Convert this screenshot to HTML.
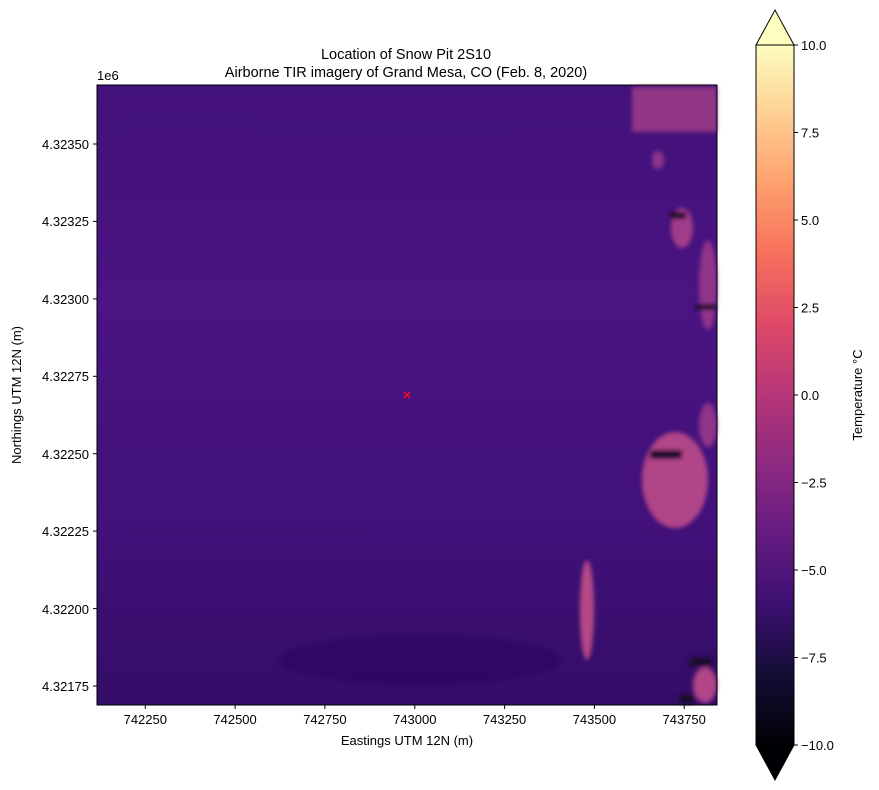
<!DOCTYPE html>
<html><head><style>body{margin:0;background:#fff}svg{display:block}text{font-family:"Liberation Sans","DejaVu Sans",sans-serif}</style></head><body>
<svg width="879" height="790" viewBox="0 0 879 790" xmlns="http://www.w3.org/2000/svg" font-size="13" fill="#000">
<defs>
<linearGradient id="bg" x1="0" y1="0" x2="0" y2="1">
<stop offset="0" stop-color="#43117a"/><stop offset="0.35" stop-color="#4a1482"/><stop offset="0.7" stop-color="#42117a"/><stop offset="1" stop-color="#340d68"/>
</linearGradient>
<linearGradient id="mg" x1="0" y1="1" x2="0" y2="0">
<stop offset="0" stop-color="#000004"/><stop offset="0.1" stop-color="#140e36"/><stop offset="0.2" stop-color="#3b0f70"/><stop offset="0.3" stop-color="#641a80"/><stop offset="0.4" stop-color="#8c2981"/><stop offset="0.5" stop-color="#b73779"/><stop offset="0.6" stop-color="#de4968"/><stop offset="0.7" stop-color="#f7705c"/><stop offset="0.8" stop-color="#fe9f6d"/><stop offset="0.9" stop-color="#fecf92"/><stop offset="1" stop-color="#fcfdbf"/>
</linearGradient>
<filter id="bl"><feGaussianBlur stdDeviation="2"/></filter>
</defs>
<text x="406" y="59" text-anchor="middle" font-size="14.5">Location of Snow Pit 2S10</text>
<text x="406" y="77" text-anchor="middle" font-size="14.5">Airborne TIR imagery of Grand Mesa, CO (Feb. 8, 2020)</text>
<rect x="97" y="85" width="620" height="620" fill="url(#bg)"/>
<g filter="url(#bl)">
<rect x="632" y="87" width="85" height="45" fill="#a03c88" opacity="0.85"/>
<ellipse cx="682" cy="228" rx="11" ry="20" fill="#a03c88"/>
<rect x="670" y="212" width="16" height="7" fill="#120a28"/>
<ellipse cx="708" cy="285" rx="9" ry="45" fill="#90348a"/>
<rect x="696" y="304" width="20" height="6" fill="#120a28"/>
<ellipse cx="675" cy="480" rx="33" ry="48" fill="#b04488"/>
<rect x="650" y="450" width="32" height="9" fill="#150a2c"/>
<ellipse cx="708" cy="425" rx="9" ry="22" fill="#90348a"/>
<ellipse cx="587" cy="610" rx="7" ry="50" fill="#b54886"/>
<ellipse cx="705" cy="685" rx="12" ry="18" fill="#b04488"/>
<rect x="690" y="658" width="22" height="8" fill="#120a28"/>
<rect x="680" y="695" width="14" height="8" fill="#120a28"/>
<ellipse cx="658" cy="160" rx="6" ry="9" fill="#90348a"/>
<ellipse cx="420" cy="660" rx="140" ry="25" fill="#2e0c5e" opacity="0.5"/>
</g>
<rect x="97" y="85" width="620" height="620" fill="none" stroke="#000" stroke-width="1"/>
<text x="407" y="400" text-anchor="middle" fill="#e8102a" font-size="15" font-weight="bold">×</text>
<g stroke="#000" stroke-width="1">
<line x1="145.3" y1="705" x2="145.3" y2="709"/><line x1="235.1" y1="705" x2="235.1" y2="709"/><line x1="324.9" y1="705" x2="324.9" y2="709"/><line x1="414.8" y1="705" x2="414.8" y2="709"/><line x1="504.6" y1="705" x2="504.6" y2="709"/><line x1="594.4" y1="705" x2="594.4" y2="709"/><line x1="684.2" y1="705" x2="684.2" y2="709"/>
<line x1="93" y1="144" x2="97" y2="144"/><line x1="93" y1="221.4" x2="97" y2="221.4"/><line x1="93" y1="298.9" x2="97" y2="298.9"/><line x1="93" y1="376.3" x2="97" y2="376.3"/><line x1="93" y1="453.7" x2="97" y2="453.7"/><line x1="93" y1="531.1" x2="97" y2="531.1"/><line x1="93" y1="608.6" x2="97" y2="608.6"/><line x1="93" y1="686" x2="97" y2="686"/>
</g>
<g text-anchor="middle">
<text x="145.3" y="724">742250</text><text x="235.1" y="724">742500</text><text x="324.9" y="724">742750</text><text x="414.8" y="724">743000</text><text x="504.6" y="724">743250</text><text x="594.4" y="724">743500</text><text x="684.2" y="724">743750</text>
</g>
<text x="407" y="745" text-anchor="middle">Eastings UTM 12N (m)</text>
<g text-anchor="end">
<text x="89" y="149">4.32350</text><text x="89" y="226">4.32325</text><text x="89" y="304">4.32300</text><text x="89" y="381">4.32275</text><text x="89" y="459">4.32250</text><text x="89" y="536">4.32225</text><text x="89" y="614">4.32200</text><text x="89" y="691">4.32175</text>
</g>
<text x="97" y="80">1e6</text>
<text transform="translate(21,395) rotate(-90)" text-anchor="middle">Northings UTM 12N (m)</text>
<rect x="756" y="45" width="38" height="700" fill="url(#mg)"/>
<polygon points="756,45 775,10 794,45" fill="#fcfdbf" stroke="#000" stroke-width="1"/>
<polygon points="756,745 775,780 794,745" fill="#000004" stroke="#000" stroke-width="1"/>
<rect x="756" y="45" width="38" height="700" fill="none" stroke="#000" stroke-width="1"/>
<g stroke="#000"><line x1="794" y1="45" x2="798" y2="45"/><line x1="794" y1="132.5" x2="798" y2="132.5"/><line x1="794" y1="220" x2="798" y2="220"/><line x1="794" y1="307.5" x2="798" y2="307.5"/><line x1="794" y1="395" x2="798" y2="395"/><line x1="794" y1="482.5" x2="798" y2="482.5"/><line x1="794" y1="570" x2="798" y2="570"/><line x1="794" y1="657.5" x2="798" y2="657.5"/><line x1="794" y1="745" x2="798" y2="745"/></g>
<g><text x="801" y="50">10.0</text><text x="801" y="137.5">7.5</text><text x="801" y="225">5.0</text><text x="801" y="312.5">2.5</text><text x="801" y="400">0.0</text><text x="801" y="487.5">−2.5</text><text x="801" y="575">−5.0</text><text x="801" y="662.5">−7.5</text><text x="801" y="750">−10.0</text></g>
<text transform="translate(862,395) rotate(-90)" text-anchor="middle">Temperature °C</text>
</svg>
</body></html>
